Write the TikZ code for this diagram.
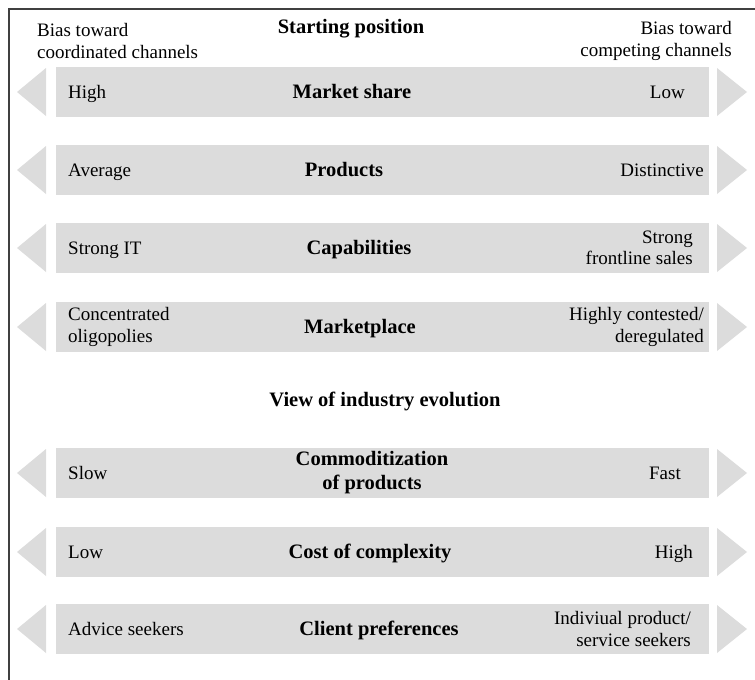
\documentclass[tikz,border=0pt]{standalone}
\usepackage{fontspec}
\setmainfont{Liberation Serif}
\definecolor{barg}{HTML}{DCDCDC}
\definecolor{frameg}{HTML}{404040}
\tikzset{
  bar/.style={fill=barg, draw=none, minimum width=653pt, minimum height=50pt, inner sep=0pt, anchor=north west},
  lab/.style={font=\fontsize{19}{21.5}\selectfont, inner sep=0pt},
  labl/.style={lab, align=left, anchor=west},
  labr/.style={lab, align=right, anchor=east},
  ttl/.style={font=\bfseries\fontsize{20.5}{24}\selectfont, inner sep=0pt, align=center},
  sl/.style={text height=13.5pt, text depth=0pt},
  tri/.style={fill=barg, draw=none},
  frame/.style={draw=frameg, line width=1.4pt}
}
\begin{document}
\begin{tikzpicture}[x=1pt, y=-1pt]
\useasboundingbox (0,0) rectangle (755,680);
\draw[frame] (9,680) -- (9,9) -- (755,9);

\node[labl] (bl) at (37,41) {Bias toward\\coordinated channels};
\node[labr] (br) at (732,41) {Bias toward\\competing channels};
\node[ttl, sl] (t1) at (351,27) {Starting position};
\node[ttl, sl] (t2) at (385,400) {View of industry evolution};

% rows: top y values
\foreach \n/\t in {r1/67, r2/145, r3/223, r4/302, r5/448, r6/527, r7/604}{
  \node[bar] (\n) at (56,\t) {};
  \fill[tri] (46,\t+1) -- (17,\t+25) -- (46,\t+49) -- cycle;
  \fill[tri] (717,\t+1) -- (747,\t+25) -- (717,\t+49) -- cycle;
}

% row 1
\node[labl, sl] (l1) at (68,92) {High};
\node[ttl, sl] (c1) at (352,92) {Market share};
\node[labr, sl] (q1) at (685,92) {Low};
% row 2
\node[labl, sl] (l2) at (68,170) {Average};
\node[ttl, sl] (c2) at (344,170) {Products};
\node[labr, sl] (q2) at (704,170) {Distinctive};
% row 3
\node[labl, sl] (l3) at (68,248) {Strong IT};
\node[ttl, sl] (c3) at (359,248) {Capabilities};
\node[labr] (q3) at (693,248) {Strong\\frontline sales};
% row 4
\node[labl] (l4) at (68,327) {Concentrated\\oligopolies};
\node[ttl, sl] (c4) at (360,327) {Marketplace};
\node[labr] (q4) at (704,327) {Highly contested/\\deregulated};
% row 5
\node[labl, sl] (l5) at (68,473) {Slow};
\node[ttl] (c5) at (372,473) {Commoditization\\of products};
\node[labr, sl] (q5) at (681,473) {Fast};
% row 6
\node[labl, sl] (l6) at (68,552) {Low};
\node[ttl, sl] (c6) at (370,552) {Cost of complexity};
\node[labr, sl] (q6) at (693,552) {High};
% row 7
\node[labl, sl] (l7) at (68,629) {Advice seekers};
\node[ttl, sl] (c7) at (379,629) {Client preferences};
\node[labr] (q7) at (691,629) {Indiviual product/\\service seekers};
\end{tikzpicture}
\end{document}
